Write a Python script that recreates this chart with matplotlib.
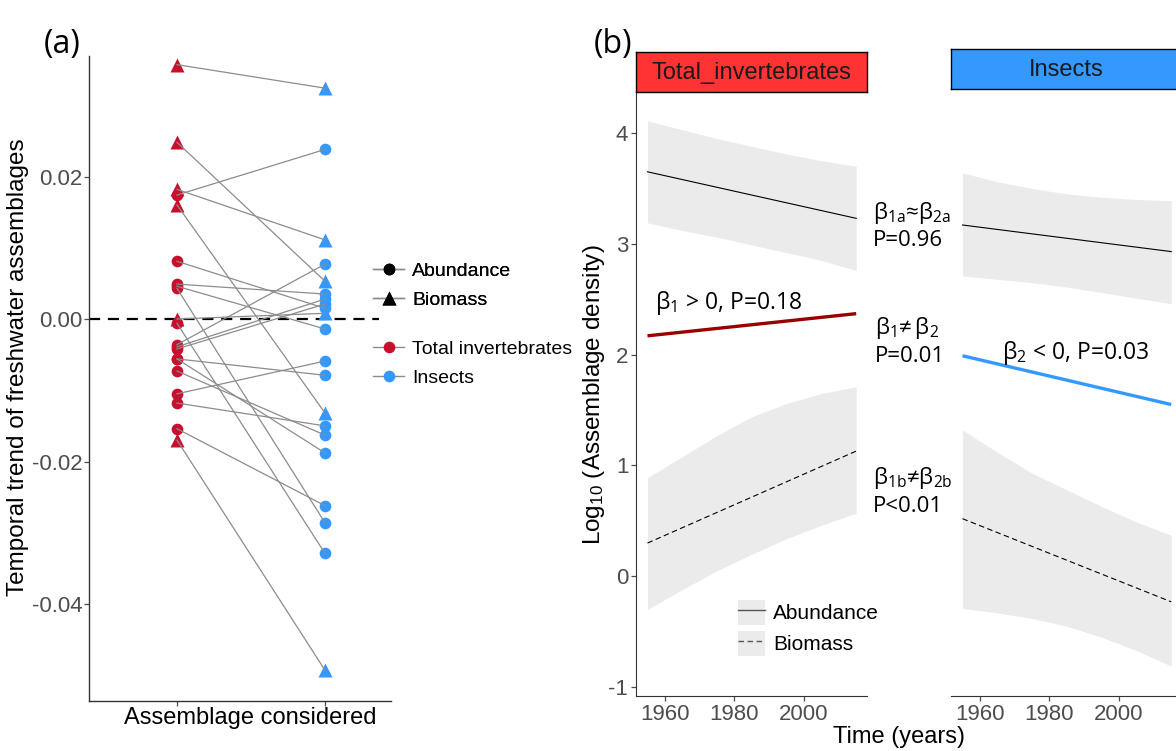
import matplotlib
matplotlib.use("Agg")
import matplotlib.pyplot as plt
from matplotlib.lines import Line2D
from matplotlib.patches import Patch

plt.rcParams['font.family'] = ['Liberation Sans', 'DejaVu Sans']

# ---------------- data: panel (a) ----------------
groups = ['Total invertebrates', 'Insects']
tri_left = [0.0357, 0.0248, 0.0182, 0.0160, 0.0000, -0.0170]
tri_right = [0.0324, 0.0053, 0.0111, -0.0132, 0.0008, -0.0493]
circ_left = [0.0174, 0.0081, 0.0049, 0.0046, 0.0043, -0.0006, -0.0036, -0.0039,
             -0.0042, -0.0056, -0.0056, -0.0073, -0.0105, -0.0118, -0.0154]
circ_right = [0.0238, 0.0015, 0.0035, -0.0014, -0.0286, -0.0329, 0.0077, 0.0028,
              0.0021, -0.0079, -0.0188, -0.0163, -0.0059, -0.0150, -0.0262]
a_yticks = [-0.04, -0.02, 0.00, 0.02]
a_yticklabels = ['-0.04', '-0.02', '0.00', '0.02']

# ---------------- data: panel (b) ----------------
fit_years = [1955, 2015]
band_years = [1955, 1965, 1975, 1985, 1995, 2005, 2015]
# Total invertebrates
ti_abund_fit = [3.65, 3.23]
ti_abund_up = [4.11, 4.03, 3.95, 3.88, 3.81, 3.75, 3.70]
ti_abund_lo = [3.19, 3.12, 3.06, 2.99, 2.92, 2.85, 2.76]
ti_bio_fit = [0.30, 1.13]
ti_bio_up = [0.89, 1.08, 1.27, 1.44, 1.56, 1.65, 1.71]
ti_bio_lo = [-0.30, -0.12, 0.05, 0.20, 0.34, 0.46, 0.57]
ti_overall = [2.17, 2.37]
# Insects
in_abund_fit = [3.17, 2.93]
in_abund_up = [3.64, 3.56, 3.50, 3.45, 3.42, 3.40, 3.39]
in_abund_lo = [2.71, 2.68, 2.65, 2.61, 2.56, 2.51, 2.46]
in_bio_fit = [0.52, -0.23]
in_bio_up = [1.32, 1.12, 0.93, 0.78, 0.63, 0.49, 0.37]
in_bio_lo = [-0.29, -0.33, -0.38, -0.45, -0.55, -0.67, -0.81]
in_overall = [1.99, 1.55]
b_yticks = [-1, 0, 1, 2, 3, 4]
b_xticks = [1960, 1980, 2000]
facet_names = ['Total_invertebrates', 'Insects']

RED = '#C8102E'
BLUE = '#3399FF'
LINEGRAY = '#8C8C8C'
BAND = '#EBEBEB'
TICKC = '#4D4D4D'
AXC = '#333333'

W, H = 1176, 751
fig = plt.figure(figsize=(W / 100, H / 100), dpi=100)
fig.patch.set_facecolor('white')


def rect(x0, y0, x1, y1):
    return [x0 / W, 1 - y1 / H, (x1 - x0) / W, (y1 - y0) / H]


def fx(x):
    return x / W


def fy(y):
    return 1 - y / H


# ================= panel (a) =================
axA = fig.add_axes(rect(89, 56, 391, 701))
xs = [0, 1]
for L, R in zip(circ_left, circ_right):
    axA.plot(xs, [L, R], color=LINEGRAY, lw=0.9, zorder=3)
for L, R in zip(tri_left, tri_right):
    axA.plot(xs, [L, R], color=LINEGRAY, lw=0.9, zorder=3)
axA.plot([xs[0]] * len(circ_left), circ_left, 'o', ms=8.4, color=RED, mec='none', zorder=2)
axA.plot([xs[1]] * len(circ_right), circ_right, 'o', ms=8.4, color=BLUE, mec='none', zorder=2)
axA.plot([xs[0]] * len(tri_left), tri_left, '^', ms=10.2, color=RED, mec='none', zorder=2)
axA.plot([xs[1]] * len(tri_right), tri_right, '^', ms=10.2, color=BLUE, mec='none', zorder=2)
axA.axhline(0, xmin=0, xmax=(379 - 89) / (391 - 89), color='black', lw=1.6,
            dashes=(5, 3.5), zorder=1)
axA.set_xlim(-88 / 148, 1 + 66 / 148)
axA.set_ylim(-(701 - 319) / 7125, (319 - 56) / 7125)
axA.set_yticks(a_yticks)
axA.set_yticklabels(a_yticklabels)
axA.set_xticks(xs)
axA.set_xticklabels(['', ''])
for s in ['top', 'right']:
    axA.spines[s].set_visible(False)
for s in ['left', 'bottom']:
    axA.spines[s].set_color(AXC)
    axA.spines[s].set_linewidth(1.0)
axA.tick_params(axis='both', colors=TICKC, labelsize=16, length=3.5, width=0.9, pad=1)
axA.set_ylabel('Temporal trend of freshwater assemblages', fontsize=17.5, color='black')
axA.yaxis.set_label_coords((29 - 89) / 302, (701 - 367) / 645)
axA.set_xlabel('Assemblage considered', fontsize=17, color='black')
axA.xaxis.set_label_coords((250 - 89) / 302, -0.010)

# legends panel (a)
h_shape = [Line2D([], [], color=LINEGRAY, lw=1, marker='o', ms=8.4, mfc='black', mec='none'),
           Line2D([], [], color=LINEGRAY, lw=1, marker='^', ms=10.2, mfc='black', mec='none')]
leg1 = fig.legend(h_shape, ['Abundance', 'Biomass'], loc='upper left',
                  bbox_to_anchor=(fx(373), fy(262)), frameon=False, fontsize=14,
                  handlelength=1.6, handletextpad=0.4, labelspacing=0.62,
                  borderpad=0, borderaxespad=0)
h_col = [Line2D([], [], color=LINEGRAY, lw=1, marker='o', ms=8.4, mfc=RED, mec='none'),
         Line2D([], [], color=LINEGRAY, lw=1, marker='o', ms=8.4, mfc=BLUE, mec='none')]
leg2 = fig.legend(h_col, groups, loc='upper left',
                  bbox_to_anchor=(fx(373), fy(340)), frameon=False, fontsize=14,
                  handlelength=1.6, handletextpad=0.4, labelspacing=0.62,
                  borderpad=0, borderaxespad=0)
fig.add_artist(leg1)

# ================= panel (b) =================
ylim_b = (-1.08, 4.37)
xlim_b = (1951.7, 2018.1)

axB1 = fig.add_axes(rect(636, 92, 867, 696))
axB2 = fig.add_axes(rect(951, 92, 1182, 696))

facets = [
    (axB1, ti_abund_fit, ti_abund_up, ti_abund_lo, ti_bio_fit, ti_bio_up, ti_bio_lo, ti_overall, '#990000'),
    (axB2, in_abund_fit, in_abund_up, in_abund_lo, in_bio_fit, in_bio_up, in_bio_lo, in_overall, BLUE),
]
for ax, af, au, al, bf, bu, bl, ov, oc in facets:
    ax.fill_between(band_years, al, au, color=BAND, lw=0, zorder=1)
    ax.fill_between(band_years, bl, bu, color=BAND, lw=0, zorder=1)
    ax.plot(fit_years, af, color='black', lw=0.8, zorder=3)
    ax.plot(fit_years, bf, color='black', lw=0.8, dashes=(5, 3), zorder=3)
    ax.plot(fit_years, ov, color=oc, lw=2.4, zorder=4, solid_capstyle='butt')
    ax.set_xlim(*xlim_b)
    ax.set_ylim(*ylim_b)
    ax.set_xticks(b_xticks)
    ax.set_xticklabels([str(v) for v in b_xticks])
    for s in ['top', 'right']:
        ax.spines[s].set_visible(False)
    ax.spines['bottom'].set_color(AXC)
    ax.spines['left'].set_color(AXC)
    ax.tick_params(axis='both', colors=TICKC, labelsize=16, length=3.5, width=0.9, pad=2)
    ax.set_facecolor('none')

axB1.set_yticks(b_yticks)
axB1.set_yticklabels([str(v) for v in b_yticks])
axB2.spines['left'].set_visible(False)
axB2.set_yticks([])
axB1.set_ylabel(r'Log$\mathregular{_{10}}$ (Assemblage density)', fontsize=17.5, color='black')
axB1.yaxis.set_label_coords((607 - 636) / 231, (696 - 395) / 604)

# strips
strip_cols = ['#FF3333', BLUE]
strip_rects = [rect(636, 52, 867, 92), rect(951, 49, 1182, 89)]
for name, col, r in zip(facet_names, strip_cols, strip_rects):
    s = fig.add_axes(r)
    s.set_facecolor(col)
    s.set_xticks([])
    s.set_yticks([])
    for sp in s.spines.values():
        sp.set_color('black')
        sp.set_linewidth(1.0)
    s.text(0.5, 0.47, name, ha='center', va='center', fontsize=17, color='#1A1A1A',
           transform=s.transAxes)

# legend facet 1
h_lt = [(Patch(facecolor=BAND, edgecolor='none'), Line2D([], [], color='#555555', lw=1.0)),
        (Patch(facecolor=BAND, edgecolor='none'), Line2D([], [], color='#555555', lw=1.0, dashes=(4, 2.5)))]
fig.legend(h_lt, ['Abundance', 'Biomass'], loc='upper left',
           bbox_to_anchor=(fx(738), fy(600)), frameon=False, fontsize=15,
           handlelength=1.3, handleheight=1.45, handletextpad=0.4, labelspacing=0.3,
           borderpad=0, borderaxespad=0)

# annotations
AF = ['Open Sans', 'DejaVu Sans']
fig.text(fx(873), fy(219), r'$\mathregular{β_{1a}≈β_{2a}}$', fontsize=16, family=AF, va='baseline')
fig.text(fx(873), fy(246), 'P=0.96', fontsize=16, family=AF, va='baseline')
fig.text(fx(875), fy(334), r'$\mathregular{β_{1}≠\,β_{2}}$', fontsize=16, family=AF, va='baseline')
fig.text(fx(875), fy(362), 'P=0.01', fontsize=16, family=AF, va='baseline')
fig.text(fx(873), fy(484), r'$\mathregular{β_{1b}≠β_{2b}}$', fontsize=16, family=AF, va='baseline')
fig.text(fx(873), fy(512), 'P<0.01', fontsize=16, family=AF, va='baseline')
fig.text(fx(655), fy(309), r'$\mathregular{β_{1}}$ > 0, P=0.18', fontsize=16.5, family=AF, va='baseline')
fig.text(fx(1002), fy(359), r'$\mathregular{β_{2}}$ < 0, P=0.03', fontsize=16.5, family=AF, va='baseline')

fig.text(fx(899), fy(737), 'Time (years)', fontsize=17, ha='center', va='center')

# panel labels
fig.text(fx(62), fy(45), '(a)', fontsize=23, family=AF, ha='center', va='center')
fig.text(fx(613), fy(45), '(b)', fontsize=23, family=AF, ha='center', va='center')

fig.savefig('out.png', dpi=100, facecolor='white')
